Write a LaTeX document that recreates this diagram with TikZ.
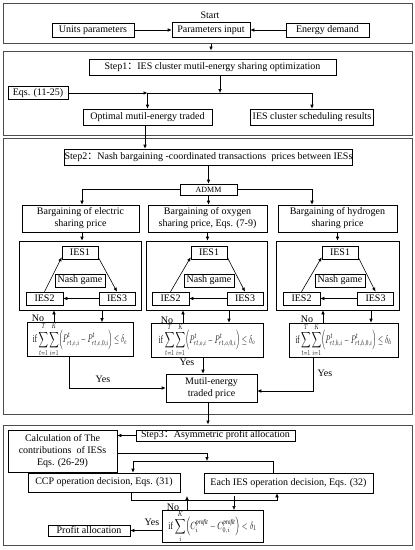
\documentclass[tikz,border=0pt]{standalone}
\usepackage{fontspec}
\usepackage{amsmath}
\usepackage{graphicx}
\setmainfont{Liberation Serif}
\newfontfamily\cjk{Noto Sans CJK SC}
\usetikzlibrary{arrows.meta,calc}
\newcommand{\fcolon}{{\cjk ：}}
\newcommand{\fitw}[3]{\resizebox{#1}{#2}{#3}}
\begin{document}
\begin{tikzpicture}[x=1pt,y=-1pt,
  every node/.style={font=\fontsize{10}{12}\selectfont},
  bx/.style={draw=black, line width=0.6pt, inner sep=0pt, align=center},
  frm/.style={draw=black!70, line width=1pt, inner sep=0pt},
  arr/.style={-{Latex[length=4pt,width=3.5pt]}, line width=0.6pt},
  ln/.style={line width=0.6pt},
  lbl/.style={inner sep=0pt}]
\useasboundingbox (0,0) rectangle (415,550);
\fill[white] (0,0) rectangle (415,550);

% ---------- frame 1
\node[frm, minimum width=409pt, minimum height=40pt] (fr1) at (207.5,23) {};
\node[lbl] (start) at (210,15) {Start};
\node[bx, minimum width=82pt, minimum height=14pt] (units) at (93,30) {Units parameters};
\node[bx, minimum width=78pt, minimum height=15pt] (params) at (211,30) {Parameters input};
\node[bx, minimum width=83pt, minimum height=14pt] (energy) at (327.5,30) {Energy demand};
\draw[arr] (units) -- (params);
\draw[arr] (energy) -- (params);

% ---------- frame 2
\node[frm, minimum width=409pt, minimum height=84pt] (fr2) at (207.5,93) {};
\draw[arr] (params.south |- fr1.south) -- (params.south |- fr2.north);
\node[bx, minimum width=247pt, minimum height=16pt] (step1) at (212.5,67) {Step1\fcolon IES cluster mutil-energy sharing optimization};
\node[bx, minimum width=60pt, minimum height=13pt] (eqs) at (38,93) {Eqs. (11-25)};
\node[bx, minimum width=129pt, minimum height=16pt] (opt) at (147.5,117) {Optimal mutil-energy traded};
\node[bx, minimum width=123pt, minimum height=16pt] (cl) at (312,117) {IES cluster scheduling results};
\coordinate (j1) at (220,93);
\draw[arr] (step1.south -| j1) -- (j1);
\draw[ln] (opt.north |- j1) -- (cl.north |- j1);
\draw[arr] (eqs.east) -- (opt.north |- eqs.east);
\draw[arr] (opt.north |- j1) -- (opt.north);
\draw[arr] (cl.north |- j1) -- (cl.north);

% ---------- frame 3
\node[frm, minimum width=409pt, minimum height=276pt] (fr3) at (207.5,276) {};
\node[bx, minimum width=277pt, minimum height=16pt] (step2) at (208.5,157) {Step2\fcolon Nash bargaining -coordinated transactions\ \ prices between IESs};
\draw[arr] ([xshift=-2.5pt]opt.south) -- ([xshift=-2.5pt]opt.south |- step2.north);
\node[bx, minimum width=57pt, minimum height=11pt, font=\fontsize{8}{10}\selectfont] (admm) at (208.5,189.5) {ADMM};
\draw[arr] (step2.south -| admm.north) -- (admm.north);
\node[bx, minimum width=117pt, minimum height=27pt] (elec) at (80.5,218.5) {Bargaining of electric\\sharing price};
\node[bx, minimum width=119pt, minimum height=27pt] (oxy) at (207.5,218.5) {Bargaining of oxygen\\sharing price, Eqs. (7-9)};
\node[bx, minimum width=119pt, minimum height=27pt] (hyd) at (337.5,218.5) {Bargaining of hydrogen\\sharing price};
\draw[arr] (admm.west) -| ([xshift=1.5pt]elec.north);
\draw[arr] (admm.east) -| ([xshift=-25.5pt]hyd.north);
\draw[arr] (admm.south) -- (admm.south |- oxy.north);

% game frames
\node[bx, minimum width=122pt, minimum height=69pt] (gf1) at (80,275.5) {};
\node[bx, minimum width=121pt, minimum height=69pt] (gf2) at (206.5,275.5) {};
\node[bx, minimum width=123pt, minimum height=69pt] (gf3) at (337.5,275.5) {};
\draw[arr] ([xshift=1.5pt]elec.south) -- ([xshift=1.5pt]elec.south |- gf1.north);
\draw[arr] (oxy.south) -- (oxy.south |- gf2.north);
\draw[arr] (hyd.south) -- (hyd.south |- gf3.north);

% game 1
\node[bx, minimum width=36pt, minimum height=13pt] (a1) at (80,252.5) {IES1};
\node[bx, minimum width=50pt, minimum height=13pt] (n1) at (80,280.5) {Nash game};
\node[bx, minimum width=37pt, minimum height=13pt] (b1) at (44.5,298.5) {IES2};
\node[bx, minimum width=36pt, minimum height=13pt] (c1) at (117,298.5) {IES3};
% game 2
\node[bx, minimum width=36pt, minimum height=13pt] (a2) at (209,252.5) {IES1};
\node[bx, minimum width=50pt, minimum height=13pt] (n2) at (209,280.5) {Nash game};
\node[bx, minimum width=37pt, minimum height=13pt] (b2) at (170.5,298.5) {IES2};
\node[bx, minimum width=36pt, minimum height=13pt] (c2) at (245,298.5) {IES3};
% game 3
\node[bx, minimum width=36pt, minimum height=13pt] (a3) at (340,252.5) {IES1};
\node[bx, minimum width=50pt, minimum height=13pt] (n3) at (340,280.5) {Nash game};
\node[bx, minimum width=37pt, minimum height=13pt] (b3) at (301.5,298.5) {IES2};
\node[bx, minimum width=36pt, minimum height=13pt] (c3) at (375.5,298.5) {IES3};
\foreach \k in {1,2,3}{
  \draw[arr] (b\k.north) -- ([yshift=2pt]a\k.south west);
  \draw[arr] ([yshift=2pt]a\k.south east) -- (c\k.north);
  \draw[arr] (c\k.west) -- (b\k.east);
}

% checks
\node[bx, minimum width=106pt, minimum height=27pt] (ch1) at (80,339.5)
  {\fitw{94pt}{20pt}{if $\displaystyle\sum_{t=1}^{T}\sum_{i=1}^{K}\Bigl(P^{t}_{rt,e,i}-P^{t}_{rt,e,0,i}\Bigr)\le\delta_e$}};
\node[bx, minimum width=112pt, minimum height=27pt] (ch2) at (207,340)
  {\fitw{96pt}{20pt}{if $\displaystyle\sum_{t=1}^{T}\sum_{i=1}^{K}\Bigl(P^{t}_{rt,o,i}-P^{t}_{rt,o,0,i}\Bigr)\le\delta_o$}};
\node[bx, minimum width=109pt, minimum height=27pt] (ch3) at (343.5,340)
  {\fitw{96pt}{20pt}{if $\displaystyle\sum_{t=1}^{T}\sum_{i=1}^{K}\Bigl(P^{t}_{rt,h,i}-P^{t}_{rt,h,0,i}\Bigr)\le\delta_h$}};
\draw[arr] ([xshift=-26pt]ch1.north) -- ([xshift=-26pt]ch1.north |- gf1.south);
\draw[arr] ([xshift=22pt]ch1.north |- gf1.south) -- ([xshift=22pt]ch1.north);
\draw[arr] ([xshift=-24pt]ch2.north) -- ([xshift=-24pt]ch2.north |- gf2.south);
\draw[arr] ([xshift=22pt]ch2.north |- gf2.south) -- ([xshift=22pt]ch2.north);
\draw[arr] ([xshift=-20.5pt]ch3.north) -- ([xshift=-20.5pt]ch3.north |- gf3.south);
\draw[arr] ([xshift=27.5pt]ch3.north |- gf3.south) -- ([xshift=27.5pt]ch3.north);
\node[lbl] (no1) at (38,318) {No};
\node[lbl] (no2) at (167,320) {No};
\node[lbl] (no3) at (307,319) {No};

\node[bx, minimum width=91pt, minimum height=28pt] (mutil) at (211.5,388) {Mutil-energy\\traded price};
\draw[arr] ([xshift=-11pt]ch1.south) |- (mutil.west);
\draw[arr] ([xshift=-4pt]ch2.south) -- ([xshift=-4pt]ch2.south |- mutil.north);
\draw[arr] ([xshift=-30.5pt]ch3.south) |- ([yshift=-3pt]mutil.east);
\node[lbl] (yes1) at (103,379) {Yes};
\node[lbl] (yes2) at (187,362) {Yes};
\node[lbl] (yes3) at (325,373) {Yes};

% ---------- frame 4
\node[frm, minimum width=409pt, minimum height=120pt] (fr4) at (207.5,485) {};
\draw[arr] ([xshift=-3.5pt]mutil.south) -- ([xshift=-3.5pt]mutil.south |- fr4.north);
\node[bx, minimum width=159pt, minimum height=11pt] (step3) at (215.5,435.5) {Step3\fcolon Asymmetric profit allocation};
\node[bx, minimum width=109pt, minimum height=42pt] (calc) at (62.5,451) {Calculation of The\\contributions\ \ of IESs\\Eqs. (26-29)};
\draw[arr] (step3.west) -- (step3.west -| calc.east);
\node[bx, minimum width=152pt, minimum height=19pt] (ccp) at (104,482.5) {CCP operation decision, Eqs. (31)};
\node[bx, minimum width=169pt, minimum height=20pt] (each) at (288.5,483) {Each IES operation decision, Eqs. (32)};
\coordinate (j4) at (207,461);
\draw[arr] ([yshift=-2pt]calc.east) -| (j4);
\draw[arr] (j4) -| ([xshift=29pt]ccp.north);
\draw[ln] (j4) -| ([xshift=-15.5pt]each.north);
\draw[arr] ([xshift=27pt]ccp.south) -- ++(0,8) -| ([xshift=-11.5pt]each.south);
\node[bx, minimum width=101pt, minimum height=25pt] (ch4) at (212.5,526.5)
  {\fitw{88pt}{19pt}{if $\displaystyle\sum_{i}^{K}\Bigl(C_i^{\mathit{profit}}-C_{0,i}^{\mathit{profit}}\Bigr)<\delta_1$}};
\draw[arr] ([xshift=-25.5pt]ch4.north) -- ++(0,-14);
\draw[arr] ([xshift=21.5pt,yshift=14pt]ch4.north) -- ([xshift=21.5pt]ch4.north);
\node[bx, minimum width=82pt, minimum height=11pt] (profit) at (89,530.5) {Profit allocation};
\draw[arr] (ch4.west |- profit.east) -- (profit.east);
\node[lbl] (no4) at (173,507) {No};
\node[lbl] (yes4) at (152,522) {Yes};
\end{tikzpicture}
\end{document}
